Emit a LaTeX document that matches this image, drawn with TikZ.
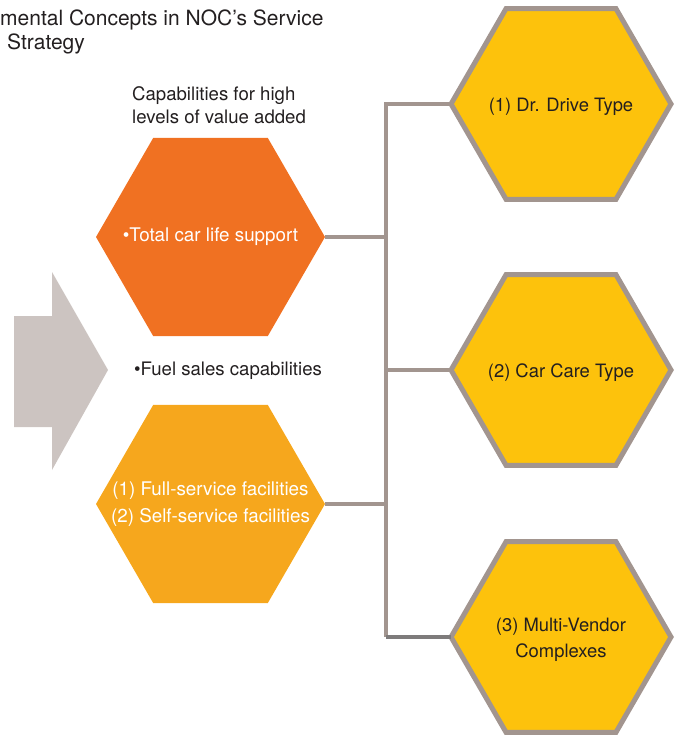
\documentclass[tikz,border=0pt]{standalone}
\usepackage{fontspec}
\setmainfont{TeX Gyre Heros}
\usetikzlibrary{shapes.geometric}

\definecolor{hexorange}{HTML}{F07122}
\definecolor{hexamber}{HTML}{F6A71D}
\definecolor{hexyellow}{HTML}{FDC20C}
\definecolor{rimgray}{HTML}{A2958F}
\definecolor{arrowgray}{HTML}{CCC4C1}
\definecolor{darkline}{HTML}{7E7B7B}
\definecolor{ink}{HTML}{231F20}

\begin{document}
\begin{tikzpicture}[x=1pt,y=-1pt,
    hexa/.style={regular polygon,regular polygon sides=6,inner sep=0pt,outer sep=0pt},
    capa/.style={hexa,minimum size=229pt,label={[white,align=center,
        font=\fontsize{18.8}{27}\selectfont]center:#1}},
    route/.style={hexa,minimum size=220pt,fill=hexyellow,draw=rimgray,line width=5pt,
        label={[ink,align=center,yshift=-3pt,font=\fontsize{18.4}{26}\selectfont]center:#1}},
    link/.style={draw=rimgray,line width=4.5pt},
    note/.style={inner sep=0pt,text=ink,align=left,font=\fontsize{18.6}{23}\selectfont}]
            \useasboundingbox (0,0) rectangle (674,735);

            % heading, running off the left edge
            \node[inner sep=0pt,anchor=base west,text=ink,font=\fontsize{21}{24}\selectfont]
                (title1) at (0,26) {mental Concepts in NOC’s Service};
            \node[inner sep=0pt,anchor=base west,text=ink,font=\fontsize{21}{24}\selectfont]
                (title2) at (7,50) {Strategy};

            % big grey arrow
            \fill[arrowgray] (14,316) -- (52,316) -- (52,272) -- (108,370)
                -- (52,470) -- (52,427) -- (14,427) -- cycle;

            \node[note,anchor=west] (high) at (132,105.5) {Capabilities for high\\levels of value added};
            \node[note] (fuel) at (228,371) {\textbullet Fuel sales capabilities};

            \node[capa={\textbullet Total car life support},fill=hexorange] (total) at (210.5,237) {};
            \node[capa={(1) Full-service facilities\\(2) Self-service facilities},fill=hexamber]
                (station) at (210.5,504) {};

            \node[route={(1) Dr. Drive Type}] (drive) at (561,104) {};
            \node[route={(2) Car Care Type}] (care) at (561,370) {};
            \node[route={(3) Multi-Vendor\\Complexes}] (vendor) at (561,637) {};

            \coordinate (bus) at (386,0);
            \draw[link] (drive.west) -- (drive.west -| bus) -- (vendor.west -| bus);
            \draw[link] (care.west) -- (care.west -| bus);
            \draw[link] (total.east) -- (total.east -| bus);
            \draw[link] (station.east) -- (station.east -| bus);
            \draw[link,draw=darkline] (vendor.west -| bus) -- (vendor.west);
        \end{tikzpicture}
\end{document}
